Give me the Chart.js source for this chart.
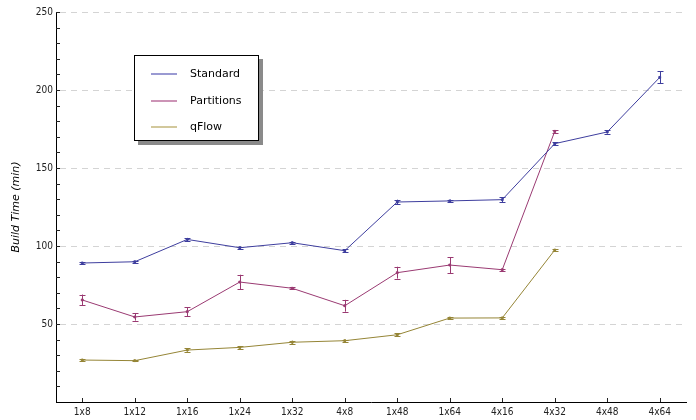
<!DOCTYPE html>
<html>
<head>
<meta charset="utf-8">
<script src="https://cdn.jsdelivr.net/npm/chart.js@4/dist/chart.umd.min.js"></script>
<style>
  html, body { margin: 0; padding: 0; background: #fff; }
  #wrap { position: relative; width: 696px; height: 420px; }
  #legend {
    position: absolute; left: 134px; top: 55px; width: 123px; height: 84px;
    border: 1px solid #000; background: #fff; box-shadow: 4px 4px 0 #8a8a8a;
    font-family: "DejaVu Sans", sans-serif; font-size: 11px; color: #000;
  }
  .row { position: absolute; left: 0; width: 100%; height: 14px; line-height: 14px; }
  .swatch { position: absolute; left: 16px; top: 6px; width: 26px; height: 2px; }
  .lbl { position: absolute; left: 55px; top: 0; white-space: nowrap; }
</style>
</head>
<body>
<div id="wrap">
  <canvas id="c" width="696" height="420"></canvas>
  <div id="legend"></div>
</div>
<script>
// Build configurations along the x axis
const categories = ['1x8', '1x12', '1x16', '1x24', '1x32', '4x8', '1x48', '1x64', '4x16', '4x32', '4x48', '4x64'];

// Mean build time (minutes) and its spread, per configuration
const standardTimes = [89.1, 89.9, 104.2, 98.9, 102.1, 97.0, 128.2, 128.9, 129.7, 165.6, 173.1, 208.1];
const standardErr   = [0.5, 0.6, 1.0, 0.7, 0.5, 0.8, 1.5, 0.8, 1.5, 0.8, 1.0, 3.8];

const partitionsTimes = [65.4, 54.5, 57.9, 76.9, 72.9, 61.7, 82.9, 87.8, 84.8, 173.5, null, null];
const partitionsErr   = [3.5, 2.3, 2.8, 4.7, 0.5, 3.8, 3.8, 5.1, 0.7, 0.8, null, null];

const qflowTimes = [26.9, 26.5, 33.3, 35.0, 38.3, 39.3, 43.1, 53.8, 53.9, 97.4, null, null];
const qflowErr   = [0.7, 0.3, 1.0, 0.8, 1.0, 0.6, 1.0, 0.4, 0.4, 0.7, null, null];

const seriesNames = ['Standard', 'Partitions', 'qFlow'];
const yTickLabels = [50, 100, 150, 200, 250];

const lineColors   = ['#3e3e9e', '#9a3a72', '#958536'];
const legendColors = ['#9a9ad2', '#cc94b6', '#d2c89c'];
const seriesErr = [standardErr, partitionsErr, qflowErr];

const tickFont = { family: '"DejaVu Sans Condensed", "DejaVu Sans", sans-serif', size: 10 };

function makeSet(i, data) {
  return {
    label: seriesNames[i],
    data: data,
    borderColor: lineColors[i],
    backgroundColor: lineColors[i],
    borderWidth: 1,
    pointStyle: 'rect',
    pointRadius: 1.3,
    pointHoverRadius: 1.3,
    tension: 0,
    spanGaps: false
  };
}

// Error bars drawn from each dataset's spread through the y scale
const errorBars = {
  id: 'errorBars',
  afterDatasetsDraw(chart) {
    const ctx = chart.ctx;
    const y = chart.scales.y;
    chart.data.datasets.forEach((ds, di) => {
      const meta = chart.getDatasetMeta(di);
      const errs = seriesErr[di];
      ctx.save();
      ctx.strokeStyle = lineColors[di];
      ctx.lineWidth = 1;
      meta.data.forEach((pt, i) => {
        const v = ds.data[i];
        const e = errs[i];
        if (v == null || e == null) return;
        const x = Math.round(pt.x) + 0.5;
        const yTop = y.getPixelForValue(v + e);
        const yBot = y.getPixelForValue(v - e);
        ctx.beginPath();
        ctx.moveTo(x, yTop); ctx.lineTo(x, yBot);
        ctx.moveTo(x - 3, Math.round(yTop) + 0.5); ctx.lineTo(x + 3, Math.round(yTop) + 0.5);
        ctx.moveTo(x - 3, Math.round(yBot) + 0.5); ctx.lineTo(x + 3, Math.round(yBot) + 0.5);
        ctx.stroke();
      });
      ctx.restore();
    });
  }
};

// Dashed horizontal grid at labelled values, plus inward tick marks on both axes
const gridAndTicks = {
  id: 'gridAndTicks',
  beforeDatasetsDraw(chart) {
    const ctx = chart.ctx;
    const area = chart.chartArea;
    const y = chart.scales.y;
    const x = chart.scales.x;
    ctx.save();
    ctx.lineWidth = 1;
    ctx.strokeStyle = '#d4d4d4';
    ctx.setLineDash([6, 5]);
    yTickLabels.forEach(v => {
      const py = Math.round(y.getPixelForValue(v)) + 0.5;
      ctx.beginPath();
      ctx.moveTo(area.left + 4, py);
      ctx.lineTo(area.right, py);
      ctx.stroke();
    });
    ctx.setLineDash([]);
    ctx.strokeStyle = '#222';
    for (let v = 10; v <= 250; v += 10) {
      const py = Math.round(y.getPixelForValue(v)) + 0.5;
      ctx.beginPath();
      ctx.moveTo(area.left, py);
      ctx.lineTo(area.left + 4, py);
      ctx.stroke();
    }
    categories.forEach((c, i) => {
      const px = Math.round(x.getPixelForTick(i)) + 0.5;
      ctx.beginPath();
      ctx.moveTo(px, area.bottom);
      ctx.lineTo(px, area.bottom - 4);
      ctx.stroke();
    });
    ctx.restore();
  }
};

const chart = new Chart(document.getElementById('c'), {
  type: 'line',
  data: {
    labels: categories,
    datasets: [makeSet(0, standardTimes), makeSet(1, partitionsTimes), makeSet(2, qflowTimes)]
  },
  options: {
    responsive: false,
    animation: false,
    layout: { padding: { top: 12, right: 10, left: 0, bottom: 0 } },
    plugins: { legend: { display: false }, tooltip: { enabled: false } },
    scales: {
      x: {
        type: 'category',
        offset: true,
        grid: { display: false, drawTicks: false },
        border: { display: true, color: '#000', width: 1 },
        ticks: { color: '#222', padding: 4, font: tickFont, maxRotation: 0, autoSkip: false },
        afterFit(s) { s.height = 18; }
      },
      y: {
        min: 0,
        max: 250,
        grid: { display: false, drawTicks: false },
        border: { display: true, color: '#000', width: 1 },
        ticks: {
          stepSize: 10,
          autoSkip: false,
          color: '#222',
          padding: 3,
          font: tickFont,
          callback: v => (yTickLabels.includes(v) ? String(v) : '')
        },
        title: {
          display: true,
          text: 'Build Time (min)',
          color: '#000',
          font: { family: '"DejaVu Sans", sans-serif', size: 11, style: 'italic' },
          padding: { top: 10, bottom: 0 }
        },
        afterFit(s) { s.width = 56; }
      }
    }
  },
  plugins: [gridAndTicks, errorBars]
});

// Legend box built from the series names and colours
const legend = document.getElementById('legend');
const rowTops = [11, 38, 64];
seriesNames.forEach((name, i) => {
  const row = document.createElement('div');
  row.className = 'row';
  row.style.top = rowTops[i] + 'px';
  const sw = document.createElement('div');
  sw.className = 'swatch';
  sw.style.background = legendColors[i];
  const lbl = document.createElement('div');
  lbl.className = 'lbl';
  lbl.textContent = name;
  row.appendChild(sw);
  row.appendChild(lbl);
  legend.appendChild(row);
});
</script>
</body>
</html>
